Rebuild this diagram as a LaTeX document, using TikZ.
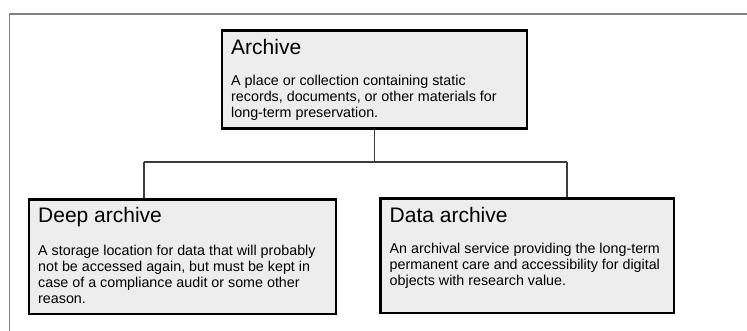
\documentclass[tikz,border=0pt]{standalone}
\usepackage{fontspec}
\setmainfont{Liberation Sans}
\begin{document}
\begin{tikzpicture}[x=1pt,y=-1pt,
  conceptbox/.style={draw=black, line width=2.6pt, fill=boxfill, rectangle,
    inner sep=0pt, anchor=north west},
  boxtitle/.style={inner sep=0pt, anchor=base west, text=black,
    font=\fontsize{21}{25}\selectfont},
  boxbody/.style={inner sep=0pt, anchor=north west, align=left, text=black,
    font=\fontsize{14.3}{16}\selectfont},
  link/.style={draw=linkgray, line width=1.1pt},
  frame/.style={draw=framegray, line width=1.6pt}]
\definecolor{boxfill}{HTML}{EDEDED}
\definecolor{linkgray}{HTML}{3C3C3C}
\definecolor{framegray}{HTML}{808080}
\useasboundingbox (0,0) rectangle (747,331);
\fill[white] (0,0) rectangle (747,331);

% outer frame, running off the right and bottom edges
\draw[frame] (9.5,340) -- (9.5,14) -- (760,14);

% concept boxes
\node[conceptbox, minimum width=305pt, minimum height=97.5pt] (arch) at (220.5,29.5) {};
\node[conceptbox, minimum width=307pt, minimum height=114.5pt] (deep) at (27.5,198) {};
\node[conceptbox, minimum width=293.5pt, minimum height=114.5pt] (data) at (379,197) {};

% titles
\node[boxtitle] (archT) at ([xshift=10.5pt,yshift=-25pt]arch.north west) {Archive};
\node[boxtitle] (deepT) at ([xshift=10.5pt,yshift=-25pt]deep.north west) {Deep archive};
\node[boxtitle] (dataT) at ([xshift=10.5pt,yshift=-25.5pt]data.north west) {Data archive};

% descriptions
\node[boxbody] (archB) at ([xshift=10.5pt,yshift=-45.5pt]arch.north west)
  {A place or collection containing static\\records, documents, or other materials for\\long-term preservation.};
\node[boxbody] (deepB) at ([xshift=10.5pt,yshift=-46.5pt]deep.north west)
  {A storage location for data that will probably\\not be accessed again, but must be kept in\\case of a compliance audit or some other\\reason.};
\node[boxbody] (dataB) at ([xshift=10.5pt,yshift=-46pt]data.north west)
  {An archival service providing the long-term\\permanent care and accessibility for digital\\objects with research value.};

% tree connectors
\coordinate (bus) at (arch.south |- 0,162);
\coordinate (busL) at (144,162);
\coordinate (busR) at (567,162);
\draw[link] (arch.south) -- (bus);
\draw[link] (busL) -- (busR);
\draw[link] (busL) -- (busL |- deep.north);
\draw[link] (busR) -- (busR |- data.north);
\end{tikzpicture}
\end{document}
